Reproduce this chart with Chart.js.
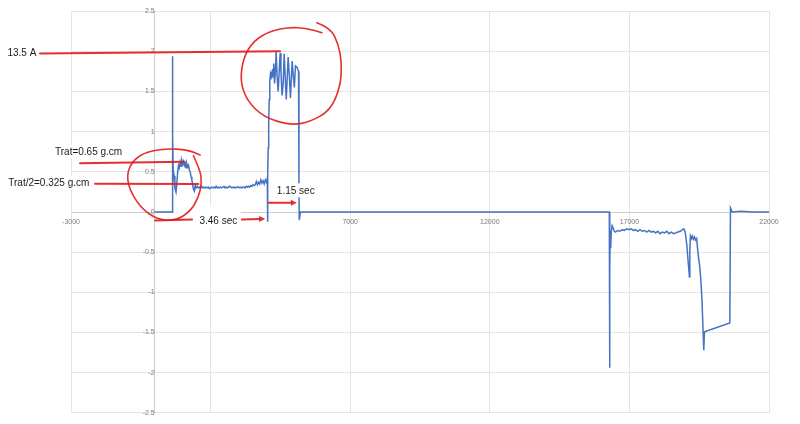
<!DOCTYPE html>
<html>
<head>
<meta charset="utf-8">
<script src="https://cdn.jsdelivr.net/npm/chart.js@4/dist/chart.umd.min.js"></script>
<style>
  html, body { margin: 0; padding: 0; background: #ffffff; }
  #wrap { width: 800px; height: 424px; position: relative; }
</style>
</head>
<body>
<div id="wrap"><canvas id="c" width="800" height="424"></canvas></div>
<script>
// ---------------- data ----------------
const xTickValues = [-3000, 2000, 7000, 12000, 17000, 22000];
const yTickValues = [-2.5, -2, -1.5, -1, -0.5, 0, 0.5, 1, 1.5, 2, 2.5];

// first bump (start-up)
const timeBump = [0, 630, 632, 645, 660, 690, 720, 760, 790, 820, 850, 880, 910, 940, 970, 1000, 1030, 1060, 1090, 1120, 1150, 1180, 1210, 1240, 1270, 1300, 1330, 1360, 1390, 1420, 1450, 1480, 1520];
const valueBump = [0, 0, 1.94, 0.95, 0.52, 0.45, 0.3, 0.25, 0.35, 0.5, 0.58, 0.55, 0.62, 0.57, 0.64, 0.6, 0.63, 0.58, 0.61, 0.55, 0.6, 0.56, 0.58, 0.52, 0.5, 0.44, 0.4, 0.33, 0.28, 0.26, 0.33, 0.3, 0.32];

// plateau at ~0.3
const timePlateau = [1560, 1600, 1640, 1680, 1720, 1760, 1800, 1840, 1880, 1920, 1960, 2000, 2040, 2080, 2120, 2160, 2200, 2240, 2280, 2320, 2360, 2400, 2440, 2480, 2520, 2560, 2600, 2640, 2680, 2720, 2760, 2800, 2840, 2880, 2920, 2960, 3000, 3040, 3080, 3120, 3160, 3200, 3240, 3280, 3320, 3360, 3400, 3440, 3480, 3520, 3560, 3600, 3640, 3680, 3720, 3760, 3800, 3840, 3880, 3920, 3960, 4000, 4030];
const valuePlateau = [0.30, 0.31, 0.30, 0.32, 0.30, 0.31, 0.30, 0.31, 0.30, 0.31, 0.29, 0.30, 0.31, 0.30, 0.31, 0.30, 0.32, 0.30, 0.31, 0.30, 0.31, 0.30, 0.31, 0.32, 0.30, 0.31, 0.30, 0.31, 0.32, 0.31, 0.30, 0.31, 0.30, 0.31, 0.30, 0.31, 0.31, 0.30, 0.31, 0.30, 0.31, 0.31, 0.30, 0.32, 0.31, 0.32, 0.31, 0.33, 0.32, 0.34, 0.33, 0.34, 0.38, 0.34, 0.37, 0.35, 0.40, 0.36, 0.39, 0.35, 0.40, 0.37, 0.42];

// high current peak
const timePeak = [4040, 4050, 4065, 4080, 4100, 4120, 4140, 4160, 4180, 4200, 4220, 4240, 4260, 4290, 4320, 4348, 4380, 4420, 4491, 4520, 4560, 4600, 4635, 4670, 4710, 4778, 4820, 4860, 4921, 4960, 5000, 5040, 5100, 5150, 5165, 5175, 5220];
const valuePeak = [-0.12, 0.5, 0.8, 1.1, 1.4, 1.62, 1.7, 1.65, 1.75, 1.68, 1.78, 1.7, 1.85, 1.6, 1.75, 2.0, 1.7, 1.5, 1.98, 1.75, 1.45, 1.6, 1.97, 1.7, 1.4, 1.93, 1.7, 1.42, 1.88, 1.7, 1.55, 1.82, 1.8, 1.75, 0.3, -0.1, 0];

// idle, then negative (reverse) section
const timeReverse = [15700, 16280, 16292, 16300, 16310, 16330, 16350, 16380, 16420, 16460, 16500, 16580, 16660, 16740, 16820, 16900, 16980, 17060, 17140, 17220, 17300, 17380, 17460, 17540, 17620, 17700, 17780, 17860, 17940, 18020, 18100, 18180, 18260, 18340, 18420, 18500, 18580, 18660, 18740, 18820, 18900, 18950, 19000, 19060, 19100, 19150, 19165, 19186, 19220, 19250, 19290, 19330, 19370, 19410, 19440, 19480, 19520, 19560, 19600, 19640, 19664, 19688, 20597, 20620, 20680, 21000, 21400, 22000];
const valueReverse = [0, 0, -1.94, -0.7, -0.35, -0.45, -0.25, -0.17, -0.2, -0.24, -0.25, -0.23, -0.24, -0.22, -0.23, -0.21, -0.22, -0.21, -0.23, -0.22, -0.24, -0.22, -0.24, -0.23, -0.25, -0.23, -0.25, -0.24, -0.26, -0.24, -0.27, -0.25, -0.26, -0.24, -0.27, -0.25, -0.27, -0.26, -0.25, -0.24, -0.22, -0.21, -0.25, -0.42, -0.6, -0.81, -0.45, -0.3, -0.33, -0.3, -0.34, -0.31, -0.35, -0.33, -0.45, -0.58, -0.68, -0.85, -1.1, -1.49, -1.72, -1.49, -1.38, 0.05, 0, 0.01, 0, 0];

// ---------------- hand-drawn annotations (data units) ----------------
const RED = 'rgba(226, 30, 30, 0.92)';
const annotationTexts = [
  { text: '13.5 A', x: -5276, y: 1.98 },
  { text: 'Trat=0.65 g.cm', x: -3573, y: 0.75 },
  { text: 'Trat/2=0.325 g.cm', x: -5247, y: 0.368 },
  { text: '3.46 sec', x: 1599, y: -0.105 },
  { text: '1.15 sec', x: 4373, y: 0.27 }
];
const annotationLines = [
  [-4111, 1.973, 4491, 2.0],
  [-2677, 0.607, 1050, 0.625],
  [-2140, 0.352, 1563, 0.348],
  [11, -0.105, 1337, -0.093]
];
const annotationArrows = [
  [3118, -0.093, 3953, -0.084],
  [4072, 0.114, 5090, 0.114]
];
const bigLoop = [[5806, 2.356], [6283, 2.294], [6581, 2.089], [6703, 1.842], [6642, 1.553], [6283, 1.265], [5566, 1.121], [4849, 1.08], [3892, 1.183], [3297, 1.389], [3057, 1.636], [3176, 1.923], [3534, 2.13], [4133, 2.253], [4849, 2.302], [5448, 2.286], [5986, 2.232]];
const smallLoop = [[1384, 0.70], [1624, 0.525], [1685, 0.36], [1563, 0.175], [1265, 0.006], [763, -0.105], [118, -0.099], [-527, 0.056], [-993, 0.34], [-939, 0.574], [-466, 0.731], [369, 0.793], [1204, 0.772], [1624, 0.71]];
const maskBox = [692, 0.08, 3093, -0.216];

// ---------------- build points ----------------
const allTimes = [].concat(timeBump, timePlateau, timePeak, timeReverse);
const allValues = [].concat(valueBump, valuePlateau, valuePeak, valueReverse);
const points = allTimes.map((t, i) => ({ x: t, y: allValues[i] }));

const annotationPlugin = {
  id: 'handAnnotations',
  afterDraw(chart) {
    const ctx = chart.ctx;
    const xs = chart.scales.x, ys = chart.scales.y;
    const P = (a, b) => [xs.getPixelForValue(a), ys.getPixelForValue(b)];
    ctx.save();
    // white text-box mask
    const m1 = P(maskBox[0], maskBox[1]);
    const m2 = P(maskBox[2], maskBox[3]);
    ctx.fillStyle = '#ffffff';
    ctx.fillRect(m1[0], m1[1], m2[0] - m1[0], m2[1] - m1[1]);

    // texts
    ctx.font = '10px "Liberation Sans", Arial, sans-serif';
    ctx.textBaseline = 'middle';
    ctx.textAlign = 'left';
    annotationTexts.forEach(a => {
      const p = P(a.x, a.y);
      const w = ctx.measureText(a.text).width;
      ctx.fillStyle = '#ffffff';
      ctx.fillRect(p[0] - 2, p[1] - 7, w + 4, 14);
      ctx.fillStyle = '#1a1a1a';
      ctx.fillText(a.text, p[0], p[1] + 0.5);
    });

    ctx.strokeStyle = RED;
    ctx.fillStyle = RED;
    ctx.lineCap = 'round';
    ctx.lineJoin = 'round';
    ctx.lineWidth = 2;
    annotationLines.forEach(l => {
      const a = P(l[0], l[1]), b = P(l[2], l[3]);
      ctx.beginPath(); ctx.moveTo(a[0], a[1]); ctx.lineTo(b[0], b[1]); ctx.stroke();
    });
    annotationArrows.forEach(l => {
      const a = P(l[0], l[1]), b = P(l[2], l[3]);
      const ang = Math.atan2(b[1] - a[1], b[0] - a[0]);
      const hl = 6, hw = 3;
      const bx = b[0] - hl * Math.cos(ang), by = b[1] - hl * Math.sin(ang);
      ctx.beginPath(); ctx.moveTo(a[0], a[1]); ctx.lineTo(bx, by); ctx.stroke();
      ctx.beginPath();
      ctx.moveTo(b[0], b[1]);
      ctx.lineTo(bx + hw * Math.sin(ang), by - hw * Math.cos(ang));
      ctx.lineTo(bx - hw * Math.sin(ang), by + hw * Math.cos(ang));
      ctx.closePath(); ctx.fill();
    });
    ctx.lineWidth = 1.6;
    [bigLoop, smallLoop].forEach(loop => {
      const pts = loop.map(q => P(q[0], q[1]));
      ctx.beginPath();
      ctx.moveTo(pts[0][0], pts[0][1]);
      for (let i = 1; i < pts.length - 1; i++) {
        const mx = (pts[i][0] + pts[i + 1][0]) / 2, my = (pts[i][1] + pts[i + 1][1]) / 2;
        ctx.quadraticCurveTo(pts[i][0], pts[i][1], mx, my);
      }
      const last = pts[pts.length - 1];
      ctx.lineTo(last[0], last[1]);
      ctx.stroke();
    });
    ctx.restore();
  }
};

new Chart(document.getElementById('c'), {
  type: 'scatter',
  data: {
    datasets: [{
      data: points,
      showLine: true,
      borderColor: '#4472c4',
      backgroundColor: '#4472c4',
      borderWidth: 1.5,
      pointRadius: 0,
      tension: 0
    }]
  },
  options: {
    responsive: false,
    animation: false,
    layout: { padding: { left: 71, right: 31, top: 10, bottom: 9 } },
    plugins: { legend: { display: false }, tooltip: { enabled: false } },
    scales: {
      x: {
        type: 'linear',
        position: { y: 0 },
        min: -3000, max: 22000,
        afterBuildTicks: s => { s.ticks = xTickValues.map(v => ({ value: v })); },
        grid: { color: '#e4e4e4', lineWidth: 1, drawTicks: false },
        border: { display: true, color: '#cdcdcd', width: 1 },
        ticks: { padding: 6, color: '#7a7a7a', font: { family: '"Liberation Sans", Arial', size: 7 }, maxRotation: 0, autoSkip: false, callback: v => String(v) }
      },
      y: {
        type: 'linear',
        position: { x: 0 },
        min: -2.5, max: 2.5,
        afterBuildTicks: s => { s.ticks = yTickValues.map(v => ({ value: v })); },
        grid: { color: '#e4e4e4', lineWidth: 1, drawTicks: false },
        border: { display: true, color: '#cdcdcd', width: 1 },
        ticks: { padding: 7, color: '#7a7a7a', font: { family: '"Liberation Sans", Arial', size: 7 }, autoSkip: false, callback: v => String(v) }
      }
    }
  },
  plugins: [annotationPlugin]
});
</script>
</body>
</html>
